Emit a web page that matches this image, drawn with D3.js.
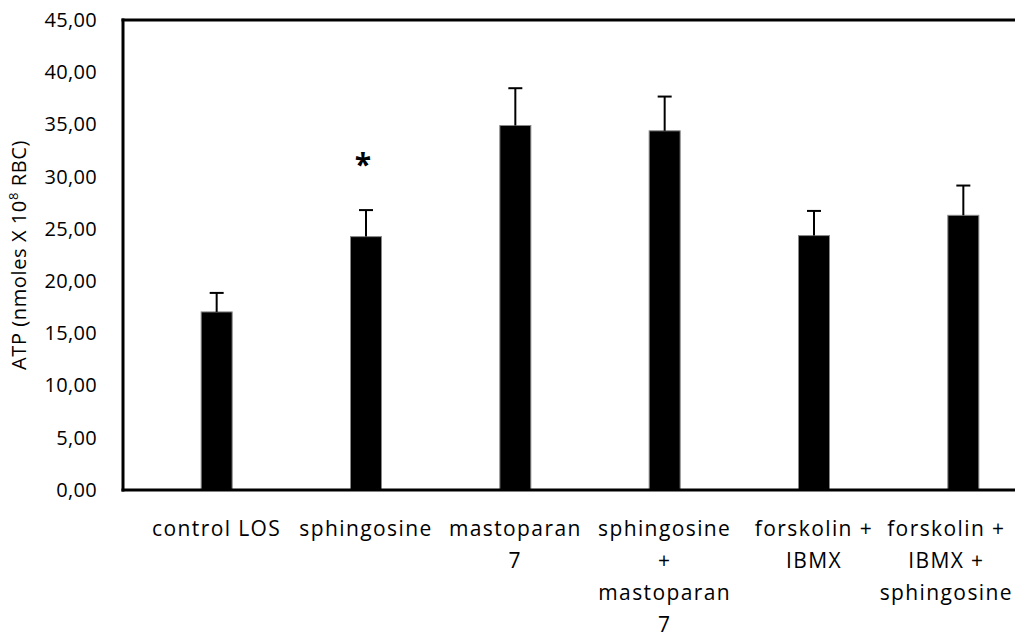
<!DOCTYPE html>
<html>
<head>
<meta charset="utf-8">
<script src="https://cdn.jsdelivr.net/npm/d3@7"></script>
<style>
  body { margin: 0; background: #fff; }
  svg { display: block; font-family: "Open Sans", sans-serif; }
</style>
</head>
<body>
<div id="vis"></div>
<script>
const FRAME_WIDTH = 1015;
const FRAME_HEIGHT = 635;

// categories, split into the lines they are wrapped on
const categories = [
  ['control LOS'],
  ['sphingosine'],
  ['mastoparan', '7'],
  ['sphingosine', '+', 'mastoparan', '7'],
  ['forskolin +', 'IBMX'],
  ['forskolin +', 'IBMX +', 'sphingosine']
];
const means = [17.05, 24.26, 34.90, 34.39, 24.36, 26.30];
const errors = [1.82, 2.54, 3.57, 3.28, 2.36, 2.85];
const marks = ['', '*', '', '', '', ''];
const yTicks = [0, 5, 10, 15, 20, 25, 30, 35, 40, 45];

const PLOT = {left: 123, top: 20, bottom: 490};

const FRAME = d3.select('#vis')
  .append('svg')
    .attr('width', FRAME_WIDTH)
    .attr('height', FRAME_HEIGHT);

const X_SCALE = d3.scaleBand()
  .domain(d3.range(categories.length))
  .range([142, 1038]);

const Y_SCALE = d3.scaleLinear()
  .domain([0, 45])
  .range([PLOT.bottom, PLOT.top]);

const BAR_W = 31;
const CAP_W = 14;

// comma as decimal separator
const locale = d3.formatLocale({decimal: ',', thousands: '.', grouping: [3], currency: ['', '']});
const fmt = locale.format('.2f');

// y axis labels
const yAxis = FRAME.append('g')
  .attr('transform', 'translate(' + PLOT.left + ',0)')
  .call(d3.axisLeft(Y_SCALE).tickValues(yTicks).tickFormat(fmt).tickSize(0).tickPadding(26));
yAxis.select('.domain').remove();
yAxis.selectAll('text')
  .attr('font-size', '20px')
  .attr('font-family', '"Open Sans", sans-serif')
  .attr('letter-spacing', '0.3px')
  .attr('fill', '#000');

// bars
FRAME.selectAll('.bar')
  .data(means)
  .enter()
  .append('rect')
    .attr('class', 'bar')
    .attr('x', (d, i) => X_SCALE(i) + X_SCALE.bandwidth() / 2 - BAR_W / 2)
    .attr('y', (d) => Y_SCALE(d))
    .attr('width', BAR_W)
    .attr('height', (d) => Y_SCALE(0) - Y_SCALE(d))
    .attr('fill', '#000')
    .attr('stroke', '#888')
    .attr('stroke-width', 1);

// error bars (upper only)
const err = FRAME.selectAll('.err')
  .data(means)
  .enter()
  .append('g')
    .attr('class', 'err')
    .attr('stroke', '#000')
    .attr('stroke-width', 2);

err.append('line')
  .attr('x1', (d, i) => X_SCALE(i) + X_SCALE.bandwidth() / 2)
  .attr('x2', (d, i) => X_SCALE(i) + X_SCALE.bandwidth() / 2)
  .attr('y1', (d) => Y_SCALE(d))
  .attr('y2', (d, i) => Y_SCALE(d + errors[i]));

err.append('line')
  .attr('x1', (d, i) => X_SCALE(i) + X_SCALE.bandwidth() / 2 - CAP_W / 2)
  .attr('x2', (d, i) => X_SCALE(i) + X_SCALE.bandwidth() / 2 + CAP_W / 2)
  .attr('y1', (d, i) => Y_SCALE(d + errors[i]))
  .attr('y2', (d, i) => Y_SCALE(d + errors[i]));

// significance marks
FRAME.selectAll('.mark')
  .data(marks)
  .enter()
  .append('text')
    .attr('class', 'mark')
    .attr('x', (d, i) => X_SCALE(i) + X_SCALE.bandwidth() / 2 - 3)
    .attr('y', (d, i) => Y_SCALE(means[i] + errors[i]) - 35)
    .attr('text-anchor', 'middle')
    .attr('font-size', '30px')
    .attr('font-weight', 'bold')
    .text((d) => d);

// frame lines: left, bottom, top
FRAME.append('line')
  .attr('x1', PLOT.left).attr('x2', PLOT.left)
  .attr('y1', PLOT.top - 1.5).attr('y2', PLOT.bottom + 1.5)
  .attr('stroke', '#000').attr('stroke-width', 3);
FRAME.append('line')
  .attr('x1', PLOT.left - 1.5).attr('x2', FRAME_WIDTH)
  .attr('y1', PLOT.bottom).attr('y2', PLOT.bottom)
  .attr('stroke', '#000').attr('stroke-width', 3);
FRAME.append('line')
  .attr('x1', PLOT.left - 1.5).attr('x2', FRAME_WIDTH)
  .attr('y1', PLOT.top).attr('y2', PLOT.top)
  .attr('stroke', '#000').attr('stroke-width', 3);

// category labels
const lab = FRAME.selectAll('.cat')
  .data(categories)
  .enter()
  .append('text')
    .attr('class', 'cat')
    .attr('text-anchor', 'middle')
    .attr('font-size', '21px')
    .attr('letter-spacing', '1.4px')
    .attr('fill', '#000');

lab.selectAll('tspan')
  .data((d, i) => d.map((t) => ({t: t, i: i})))
  .enter()
  .append('tspan')
    .attr('x', (d) => X_SCALE(d.i) + X_SCALE.bandwidth() / 2)
    .attr('y', (d, j) => 536 + j * 32)
    .text((d) => d.t);

// keep labels inside the picture, like the original does with the last one
lab.each(function () {
  const box = this.getBBox();
  const over = box.x + box.width - (FRAME_WIDTH - 2);
  if (over > 0) {
    d3.select(this).selectAll('tspan')
      .attr('x', (d) => X_SCALE(d.i) + X_SCALE.bandwidth() / 2 - over);
  }
});

// y axis title
const title = FRAME.append('text')
  .attr('transform', 'translate(26,' + ((PLOT.top + PLOT.bottom) / 2) + ') rotate(-90)')
  .attr('text-anchor', 'middle')
  .attr('font-size', '20px')
  .attr('letter-spacing', '0.6px')
  .attr('fill', '#000');
title.append('tspan').text('ATP (nmoles X 10');
title.append('tspan').attr('font-size', '13px').attr('dy', -8).text('8');
title.append('tspan').attr('dy', 8).text(' RBC)');
</script>
</body>
</html>
